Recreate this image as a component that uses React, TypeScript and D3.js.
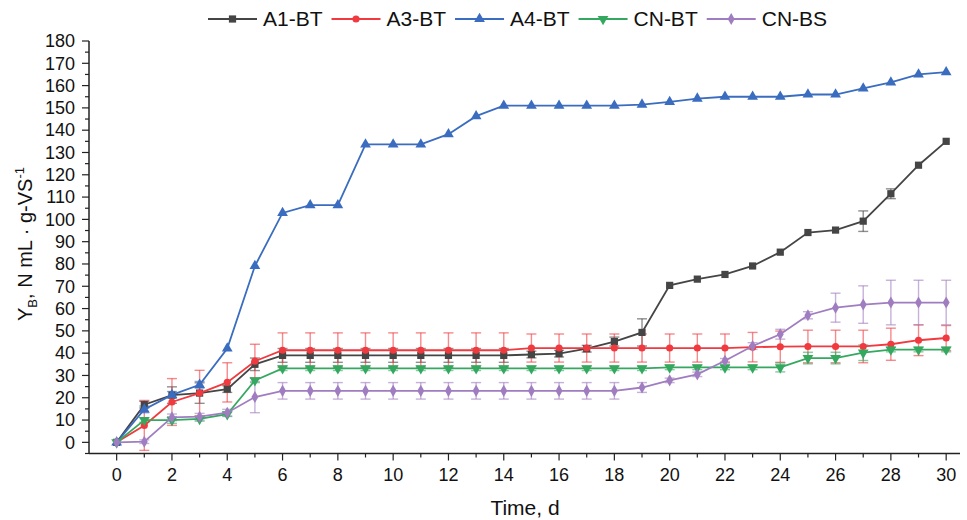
import React, { useRef, useEffect } from "react";
import * as d3 from "d3";

// days on the x axis
const days = d3.range(0, 31);

// Y_B values (N mL / g-VS)
const a1bt = [0, 16.9, 21.2, 22.1, 23.9, 35, 39, 39, 39, 39, 39, 39, 39, 39, 39, 39.4, 39.8, 42, 45.2, 49.3, 70.4, 73.2, 75.3, 79.1, 85.3, 94.1, 95.2, 99.2, 111.5, 124.3, 135];
const a1btErr = [0, 1.5, 3.7, 4.6, 1.5, 2.8, 3.1, 3.1, 3.1, 3.1, 3.1, 3.1, 3.1, 3.1, 3.1, 1.5, 1.5, 1.5, 2, 6.1, 0, 0, 0, 0, 0, 0, 0, 4.6, 2.2, 0, 0];

const a3bt = [0, 7.6, 18.1, 22.1, 26.9, 36.4, 41.3, 41.3, 41.3, 41.3, 41.3, 41.3, 41.3, 41.3, 41.3, 42.3, 42.3, 42.3, 42.3, 42.3, 42.3, 42.3, 42.3, 42.7, 42.9, 43, 43, 43, 44, 45.8, 46.8];
const a3btErr = [0, 11.2, 10.5, 10.2, 8.8, 7.6, 7.8, 7.8, 7.8, 7.8, 7.8, 7.8, 7.8, 7.8, 7.8, 6.3, 6.3, 6.3, 6.3, 6.3, 6.3, 6.3, 6.3, 6.6, 7, 7.3, 7.3, 7.3, 7.2, 6.9, 5.6];

const a4bt = [0, 14.8, 21.3, 25.8, 42.1, 79.1, 102.9, 106.4, 106.4, 133.6, 133.6, 133.6, 138.2, 146.3, 151, 151, 151, 151, 151, 151.5, 152.7, 154.2, 155, 155, 155, 156, 156, 158.7, 161.4, 165, 166];
const a4btErr = [0, 1.5, 1.5, 1.5, 0, 0, 0, 0, 0, 0, 0, 0, 0, 0, 0, 0, 0, 0, 0, 0, 0, 0, 0, 0, 0, 0, 0, 0, 0, 0, 0];

const cnbt = [0, 10, 10, 10.5, 12.6, 27.8, 33.2, 33.2, 33.2, 33.2, 33.2, 33.2, 33.2, 33.2, 33.2, 33.2, 33.2, 33.2, 33.2, 33.2, 33.6, 33.6, 33.6, 33.6, 33.6, 37.8, 37.8, 40.2, 41.6, 41.6, 41.6];
const cnbtErr = [0, 1, 1.5, 1, 1, 1, 1, 1, 1, 1, 1, 1, 1, 1, 1, 1, 1, 1, 1, 1, 1, 1, 1, 1, 2, 2.6, 2.6, 3.5, 1, 1, 1];

const cnbs = [0, 0.3, 11.2, 11.5, 13.3, 20.3, 23.1, 23.1, 23.1, 23.1, 23.1, 23.1, 23.1, 23.1, 23.1, 23.1, 23.1, 23.1, 23.1, 24.6, 27.8, 30.5, 36.6, 43.2, 48.5, 57, 60.4, 61.8, 62.7, 62.7, 62.7];
const cnbsErr = [0, 0.8, 1.5, 1.5, 1.5, 7, 3.7, 3.7, 3.7, 3.7, 3.7, 3.7, 3.7, 3.7, 3.7, 3.7, 3.7, 3.7, 3.7, 2.2, 1, 1, 1, 1.5, 2.2, 1.6, 6.5, 8.4, 10, 10, 10];

const seriesNames = ["A1-BT", "A3-BT", "A4-BT", "CN-BT", "CN-BS"];
const seriesColors = ["#454545", "#f03a3f", "#3a6cbf", "#35a860", "#a07dc0"];
const seriesSymbols = [d3.symbolSquare, d3.symbolCircle, d3.symbolTriangle, d3.symbolTriangle, d3.symbolDiamond];
const seriesSizes = [52, 40, 50, 50, 42];
const seriesRotate = [0, 0, 0, 180, 0];

const yTicks = d3.range(0, 181, 10);
const xTicks = d3.range(0, 31, 2);

const FONT = "'Liberation Sans', Arial, sans-serif";

const App = () => {
  const svgRef = useRef<SVGSVGElement | null>(null);

  useEffect(() => {
    const width = 967;
    const height = 520;
    const svg = d3.select(svgRef.current).attr("width", width).attr("height", height);
    svg.selectAll("*").remove();

    const values = [a1bt, a3bt, a4bt, cnbt, cnbs];
    const errs = [a1btErr, a3btErr, a4btErr, cnbtErr, cnbsErr];
    const series = seriesNames.map((name, i) => ({
      name,
      color: seriesColors[i],
      symbol: seriesSymbols[i],
      size: seriesSizes[i],
      rot: seriesRotate[i],
      points: days.map((d, j) => ({ day: d, v: values[i][j], e: errs[i][j] })),
    }));

    const x = d3.scaleLinear().domain([-1, 30.5]).range([89, 960]);
    const y = d3.scaleLinear().domain([-5, 180]).range([453.5, 41]);

    // axes
    const axisColor = "#222";
    const yAxis = svg.append("g");
    yAxis
      .append("line")
      .attr("x1", x(-1))
      .attr("x2", x(-1))
      .attr("y1", y(-5))
      .attr("y2", y(180))
      .attr("stroke", axisColor)
      .attr("stroke-width", 1.5);
    yAxis
      .selectAll(".ytick")
      .data(d3.range(-5, 181, 5))
      .enter()
      .append("line")
      .attr("x1", x(-1))
      .attr("x2", (d) => x(-1) - (d % 10 === 0 ? 7 : 4))
      .attr("y1", (d) => y(d))
      .attr("y2", (d) => y(d))
      .attr("stroke", axisColor)
      .attr("stroke-width", 1.2);
    yAxis
      .selectAll(".ylab")
      .data(yTicks)
      .enter()
      .append("text")
      .attr("x", x(-1) - 14)
      .attr("y", (d) => y(d))
      .attr("dy", "0.35em")
      .attr("text-anchor", "end")
      .attr("font-family", FONT)
      .attr("font-size", 18)
      .attr("fill", "#111")
      .text((d) => d);

    const xAxis = svg.append("g");
    xAxis
      .append("line")
      .attr("x1", x(-1))
      .attr("x2", x(30.5))
      .attr("y1", y(-5))
      .attr("y2", y(-5))
      .attr("stroke", axisColor)
      .attr("stroke-width", 1.5);
    xAxis
      .selectAll(".xtick")
      .data(d3.range(0, 31, 1))
      .enter()
      .append("line")
      .attr("x1", (d) => x(d))
      .attr("x2", (d) => x(d))
      .attr("y1", y(-5))
      .attr("y2", (d) => y(-5) + (d % 2 === 0 ? 7 : 4))
      .attr("stroke", axisColor)
      .attr("stroke-width", 1.2);
    xAxis
      .selectAll(".xlab")
      .data(xTicks)
      .enter()
      .append("text")
      .attr("x", (d) => x(d))
      .attr("y", y(-5) + 27)
      .attr("text-anchor", "middle")
      .attr("font-family", FONT)
      .attr("font-size", 18)
      .attr("fill", "#111")
      .text((d) => d);

    // axis titles
    svg
      .append("text")
      .attr("x", 525)
      .attr("y", 515)
      .attr("text-anchor", "middle")
      .attr("font-family", FONT)
      .attr("font-size", 21)
      .attr("fill", "#111")
      .text("Time, d");

    const yt = svg
      .append("text")
      .attr("transform", `translate(32, 244) rotate(-90)`)
      .attr("text-anchor", "middle")
      .attr("font-family", FONT)
      .attr("font-size", 20)
      .attr("fill", "#111");
    yt.append("tspan").text("Y");
    yt.append("tspan").attr("font-size", 13).attr("dy", 5).text("B");
    yt.append("tspan").attr("dy", -5).text(", N mL · g-VS");
    yt.append("tspan").attr("font-size", 13).attr("dy", -8).text("-1");

    // error bars
    series.forEach((s) => {
      const g = svg.append("g").attr("stroke", s.color).attr("stroke-opacity", 0.6).attr("stroke-width", 1.4);
      s.points
        .filter((p) => p.e > 0)
        .forEach((p) => {
          const cx = x(p.day);
          g.append("line").attr("x1", cx).attr("x2", cx).attr("y1", y(p.v - p.e)).attr("y2", y(p.v + p.e));
          g.append("line").attr("x1", cx - 5).attr("x2", cx + 5).attr("y1", y(p.v - p.e)).attr("y2", y(p.v - p.e));
          g.append("line").attr("x1", cx - 5).attr("x2", cx + 5).attr("y1", y(p.v + p.e)).attr("y2", y(p.v + p.e));
        });
    });

    // lines and markers
    const line = d3
      .line<{ day: number; v: number }>()
      .x((p) => x(p.day))
      .y((p) => y(p.v));

    series.forEach((s) => {
      svg
        .append("path")
        .datum(s.points)
        .attr("d", line)
        .attr("fill", "none")
        .attr("stroke", s.color)
        .attr("stroke-width", 1.8);
      const sym = d3.symbol().type(s.symbol).size(s.size);
      svg
        .append("g")
        .selectAll("path")
        .data(s.points)
        .enter()
        .append("path")
        .attr("d", sym)
        .attr("transform", (p) => `translate(${x(p.day)},${y(p.v)}) rotate(${s.rot})`)
        .attr("fill", s.color);
    });

    // legend
    const legend = svg.append("g");
    let lx = 208;
    series.forEach((s) => {
      const ly = 19;
      legend
        .append("line")
        .attr("x1", lx)
        .attr("x2", lx + 49)
        .attr("y1", ly)
        .attr("y2", ly)
        .attr("stroke", s.color)
        .attr("stroke-width", 1.8);
      legend
        .append("path")
        .attr("d", d3.symbol().type(s.symbol).size(s.size)())
        .attr("transform", `translate(${lx + 24.5},${ly}) rotate(${s.rot})`)
        .attr("fill", s.color);
      const t = legend
        .append("text")
        .attr("x", lx + 55)
        .attr("y", ly)
        .attr("dy", "0.35em")
        .attr("font-family", FONT)
        .attr("font-size", 21)
        .attr("fill", "#111")
        .text(s.name);
      const w = (t.node() as SVGTextElement).getComputedTextLength();
      lx = lx + 55 + w + 9;
    });
  }, []);

  return (
    <div style={{ position: "absolute", left: 0, top: 0, background: "#fff" }}>
      <svg ref={svgRef} style={{ display: "block" }}></svg>
    </div>
  );
};

export default App;
